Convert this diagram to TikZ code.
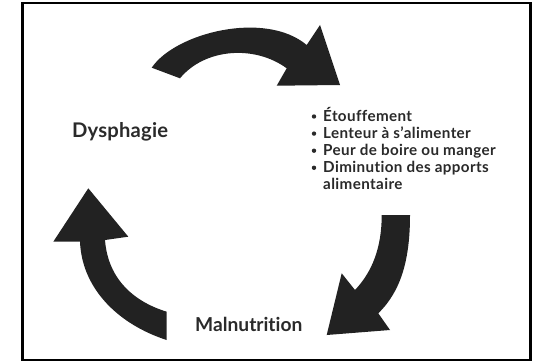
\documentclass[tikz,border=0pt]{standalone}
\usepackage{fontspec}
\setmainfont{Lato}[Ligatures={NoCommon}]
\newfontfamily\listfont{Lato}[Ligatures={NoCommon},LetterSpace=2.5]
\newfontfamily\labfont{Lato}[Ligatures={NoCommon},LetterSpace=1]
\definecolor{arrowfill}{HTML}{222222}
\definecolor{txt}{HTML}{2A2A2A}
\begin{document}
\begin{tikzpicture}[x=1pt,y=-1pt,
  bigarrow/.style={fill=arrowfill},
  label/.style={anchor=base west,inner sep=0pt,text=txt,font=\labfont\bfseries\fontsize{20.2}{22}\selectfont},
  label2/.style={anchor=base west,inner sep=0pt,text=txt,font=\bfseries\fontsize{19.2}{22}\selectfont},
  listtext/.style={anchor=base west,inner sep=0pt,text=txt,font=\listfont\bfseries\fontsize{15.2}{17}\selectfont},
  dot/.style={circle,fill=txt,inner sep=0pt,minimum size=4.4pt}]
\useasboundingbox (0,0) rectangle (534,361);
\fill[white] (0,0) rectangle (534,361);
\draw[line width=2.6pt] (22.5,3) rectangle (530.5,360);
% top arrow
\fill[bigarrow] (151.7,67.7) .. controls (175,33) and (265,10) .. (306.7,45)
  -- (320,25) -- (340,85) -- (276.7,85.7) -- (286.7,68.3)
  .. controls (255,45) and (205,48) .. (180,78.3) -- cycle;
% right arrow
\fill[bigarrow] (381.7,215) -- (410,215) .. controls (410,262) and (400,292) .. (378.3,313.3)
  -- (390,330) -- (326.7,335) -- (341.7,273.3) -- (355,290)
  .. controls (372,272) and (381.7,248) .. (381.7,215) -- cycle;
% left arrow
\fill[bigarrow] (166.7,311.7) -- (166.7,340) .. controls (120,325) and (82,290) .. (80,241.7)
  -- (53.3,241.7) -- (88.3,188.3) -- (128.3,236.7) -- (105,240)
  .. controls (108,280) and (135,302) .. (166.7,311.7) -- cycle;
\node[label] (dys) at (72,137) {Dysphagie};
\node[label2] (mal) at (195,331.5) {Malnutrition};
\node[listtext] (l1) at (323,121) {Étouffement};
\node[listtext] (l2) at (323,138.1) {Lenteur à s’alimenter};
\node[listtext] (l3) at (323,155.2) {Peur de boire ou manger};
\node[listtext] (l4) at (323,172.3) {Diminution des apports};
\node[listtext] (l5) at (323,189.4) {alimentaire};
\node[dot] (b1) at (314,116.5) {};
\node[dot] (b2) at (314,133.6) {};
\node[dot] (b3) at (314,150.7) {};
\node[dot] (b4) at (314,167.8) {};
\end{tikzpicture}
\end{document}
